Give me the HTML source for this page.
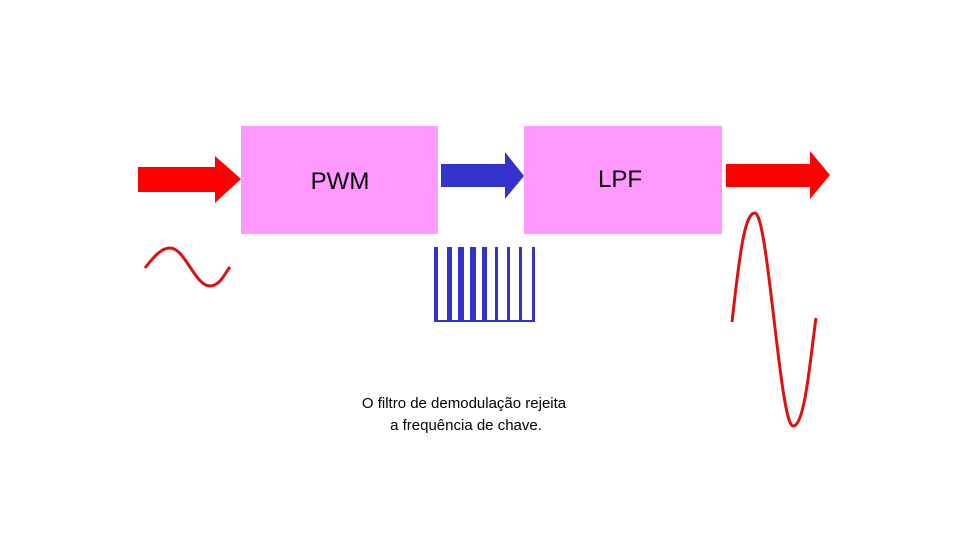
<!DOCTYPE html>
<html><head><style>
body{margin:0;background:#fff}
.t{font-family:"Liberation Sans","DejaVu Sans",sans-serif}
</style></head><body>
<svg width="960" height="540" xmlns="http://www.w3.org/2000/svg">
<rect width="960" height="540" fill="#fff"/>
<rect x="241" y="126" width="197" height="108" fill="#ff99ff"/>
<rect x="524" y="126" width="198" height="108" fill="#ff99ff"/>
<text x="340" y="189" text-anchor="middle" font-size="24" fill="#000" class="t">PWM</text>
<text x="620" y="187" text-anchor="middle" font-size="24" fill="#000" class="t">LPF</text>
<polygon points="138,167 215,167 215,156 241,179 215,203 215,192 138,192" fill="#ff0000"/>
<polygon points="441,164 505,164 505,152 524,176 505,199 505,187 441,187" fill="#3333cc"/>
<polygon points="726,164 810,164 810,151 830,175 810,199 810,187 726,187" fill="#ff0000"/>
<g fill="#3333cc">
<rect x="434" y="247" width="4" height="75"/>
<rect x="447" y="247" width="5" height="75"/>
<rect x="458" y="247" width="6" height="75"/>
<rect x="470" y="247" width="6" height="75"/>
<rect x="482" y="247" width="5" height="75"/>
<rect x="495" y="247" width="3" height="75"/>
<rect x="507" y="247" width="3" height="75"/>
<rect x="519" y="247" width="3" height="75"/>
<rect x="532" y="247" width="3" height="75"/>
<rect x="434" y="320" width="101" height="2"/>
</g>
<path d="M145,268 C155,255 162,248 170,248 C185,248 195,286 210,286 C220,286 225,273 230,267" fill="none" stroke="#dd1111" stroke-width="3"/>
<path d="M732,322 C740,250 745,213 755,213 C768,213 780,426 793,426 C805,426 810,360 816,318" fill="none" stroke="#dd1111" stroke-width="3"/>
<text x="464" y="408" text-anchor="middle" font-size="15" fill="#000" class="t">O filtro de demodulação rejeita</text>
<text x="466" y="430" text-anchor="middle" font-size="15" fill="#000" class="t">a frequência de chave.</text>
</svg>
</body></html>
